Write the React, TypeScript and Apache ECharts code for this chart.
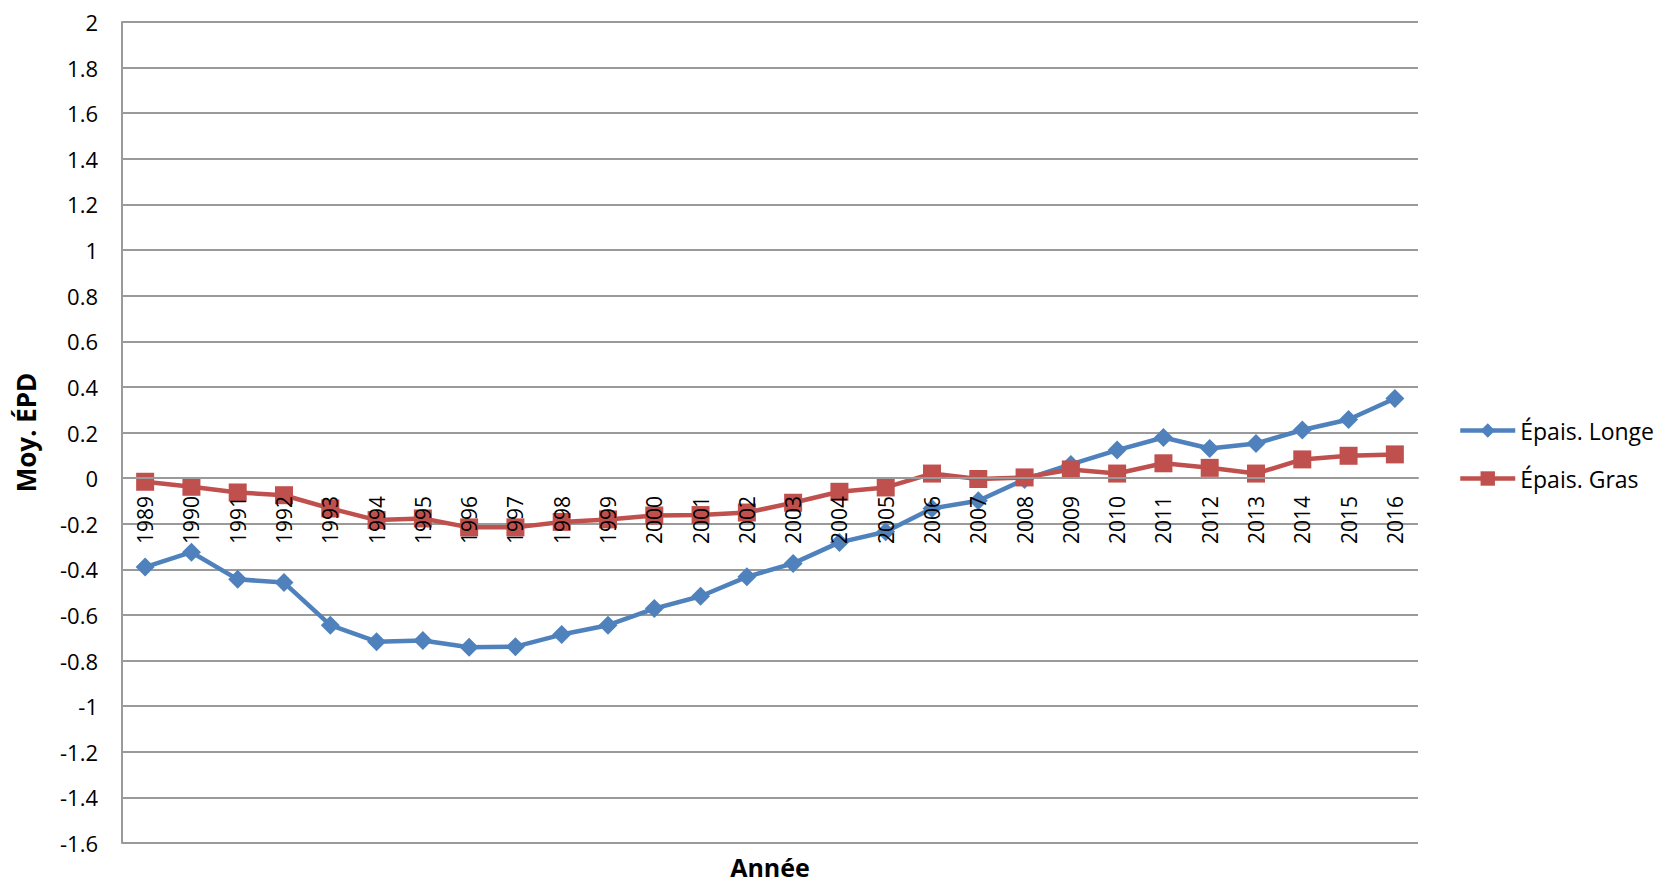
import React, { useEffect, useRef } from "react";
import * as echarts from "echarts";

const years = [
  "1989", "1990", "1991", "1992", "1993", "1994", "1995", "1996", "1997", "1998",
  "1999", "2000", "2001", "2002", "2003", "2004", "2005", "2006", "2007", "2008",
  "2009", "2010", "2011", "2012", "2013", "2014", "2015", "2016",
];

const longe = [
  -0.39, -0.325, -0.444, -0.458, -0.645, -0.717, -0.712, -0.742, -0.739, -0.686,
  -0.645, -0.572, -0.518, -0.433, -0.374, -0.282, -0.235, -0.133, -0.099, -0.006,
  0.06, 0.123, 0.178, 0.13, 0.152, 0.211, 0.257, 0.349,
];

const gras = [
  -0.016, -0.038, -0.063, -0.075, -0.133, -0.184, -0.177, -0.216, -0.216, -0.192,
  -0.181, -0.164, -0.162, -0.151, -0.108, -0.06, -0.041, 0.02, -0.004, 0.003,
  0.038, 0.02, 0.065, 0.045, 0.02, 0.082, 0.098, 0.104,
];

const seriesNames = ["Épais. Longe", "Épais. Gras"];
const colors = ["#4F81BD", "#C0504D"];

const FONT = "'Open Sans', 'Noto Sans', sans-serif";

export default function App() {
  const ref = useRef<HTMLDivElement>(null);

  useEffect(() => {
    if (!ref.current) return;
    const chart = echarts.init(ref.current, null, { renderer: "svg" });
    const gridColor = "#9a9a9a";
    chart.setOption({
      animation: false,
      backgroundColor: "#ffffff",
      textStyle: { fontFamily: FONT },
      grid: {
        left: 122,
        top: 22,
        right: 237,
        bottom: 40,
        containLabel: false,
        outerBoundsMode: "none",
      },
      legend: {
        orient: "vertical",
        left: 1458,
        top: 419,
        padding: 0,
        itemWidth: 55,
        itemHeight: 18,
        itemGap: 25,
        lineStyle: { width: 4.5 },
        textStyle: { fontFamily: FONT, fontSize: 23, color: "#000" },
        data: seriesNames,
      },
      xAxis: {
        type: "category",
        data: years,
        boundaryGap: true,
        offset: -365,
        z: 10,
        axisLine: { onZero: false, lineStyle: { color: gridColor, width: 2 } },
        axisTick: { show: false },
        axisLabel: {
          rotate: 90,
          interval: 0,
          margin: 18,
          fontFamily: FONT,
          fontSize: 21,
          color: "#000",
        },
        splitLine: { show: false },
        name: "Année",
        nameLocation: "middle",
        nameGap: 376,
        nameTextStyle: {
          fontFamily: FONT,
          fontSize: 25,
          lineHeight: 26,
          fontWeight: "bold",
          color: "#000",
        },
      },
      yAxis: {
        type: "value",
        min: -1.6,
        max: 2,
        interval: 0.2,
        axisLine: { show: true, lineStyle: { color: gridColor, width: 2 } },
        axisTick: { show: false },
        axisLabel: {
          margin: 24,
          fontFamily: FONT,
          fontSize: 22,
          color: "#000",
          formatter: (v: number) => String(Math.round(v * 10) / 10),
        },
        splitLine: { show: true, lineStyle: { color: gridColor, width: 2 } },
        name: "Moy. ÉPD",
        nameLocation: "middle",
        nameGap: 83,
        nameTextStyle: { fontFamily: FONT, fontSize: 26, fontWeight: "bold", color: "#000" },
      },
      series: [
        {
          name: seriesNames[0],
          type: "line",
          data: longe,
          symbol: "diamond",
          symbolSize: 19,
          itemStyle: { color: colors[0] },
          lineStyle: { color: colors[0], width: 4.5 },
          z: 2,
        },
        {
          name: seriesNames[1],
          type: "line",
          data: gras,
          symbol: "rect",
          symbolSize: 18,
          itemStyle: { color: colors[1] },
          lineStyle: { color: colors[1], width: 4.5 },
          z: 3,
        },
      ],
    });
    return () => chart.dispose();
  }, []);

  return (
    <div
      ref={ref}
      style={{ position: "fixed", left: 0, top: 0, width: 1655, height: 883, background: "#fff" }}
    />
  );
}
